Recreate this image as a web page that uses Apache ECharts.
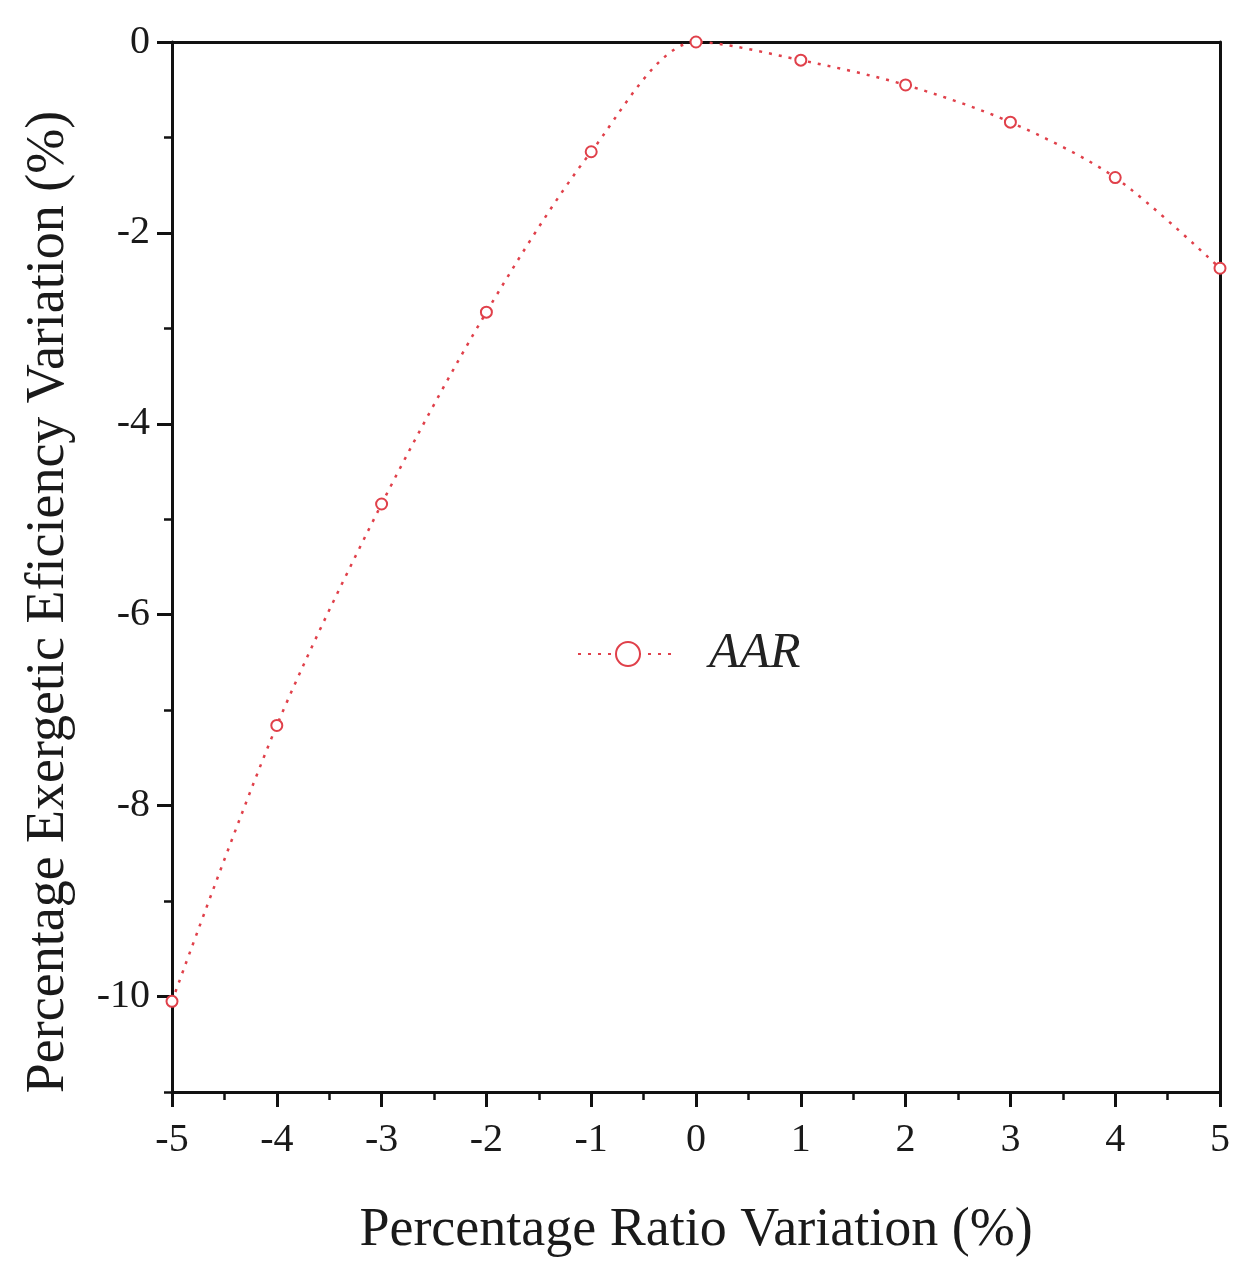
<!DOCTYPE html>
<html>
<head>
<meta charset="utf-8">
<script src="https://cdn.jsdelivr.net/npm/echarts@6/dist/echarts.min.js"></script>
<style>html,body{margin:0;padding:0;background:#fff}#c{width:1241px;height:1268px}</style>
</head>
<body>
<div id="c"></div>
<script>
const xValues = [-5, -4, -3, -2, -1, 0, 1, 2, 3, 4, 5];
const aarValues = [-10.05, -7.16, -4.84, -2.83, -1.15, 0, -0.19, -0.45, -0.84, -1.42, -2.37];
const yMajorTicks = [-10, -8, -6, -4, -2, 0];
const yMinorTicks = [-11, -9, -7, -5, -3, -1];
const seriesName = 'AAR';

const FONT = '"Liberation Serif", "DejaVu Serif", serif';
const RED = '#e0404a';
const chart = echarts.init(document.getElementById('c'));
chart.setOption({
  animation: false,
  backgroundColor: '#fff',
  grid: { left: 172, right: 21, top: 42, bottom: 176, show: false },
  legend: {
    left: 572, top: 624,
    itemWidth: 100, itemHeight: 30,
    textStyle: { fontFamily: FONT, fontSize: 50, fontStyle: 'italic', color: '#222', padding: [0, 0, 0, 26] },
    data: [seriesName]
  },
  xAxis: [{
    type: 'value', min: -5, max: 5, interval: 1, position: 'bottom',
    name: 'Percentage Ratio Variation (%)', nameLocation: 'middle', nameGap: 112,
    nameTextStyle: { fontFamily: FONT, fontSize: 54, color: '#1a1a1a' },
    axisLine: { onZero: false, lineStyle: { color: '#111', width: 3 } },
    axisTick: { inside: false, length: 15, lineStyle: { color: '#111', width: 3 } },
    minorTick: { show: true, splitNumber: 2, length: 8, lineStyle: { color: '#111', width: 2.5 } },
    axisLabel: { fontFamily: FONT, fontSize: 40, color: '#1a1a1a', margin: 28 },
    splitLine: { show: false }
  }, {
    type: 'value', min: -5, max: 5, position: 'top',
    axisLine: { onZero: false, lineStyle: { color: '#111', width: 3 } },
    axisTick: { show: false }, axisLabel: { show: false }, splitLine: { show: false }
  }],
  yAxis: [{
    type: 'value', min: -11, max: 0, interval: 1, position: 'left',
    name: 'Percentage Exergetic Eficiency Variation (%)', nameLocation: 'middle', nameGap: 96, nameRotate: 90,
    nameTextStyle: { fontFamily: FONT, fontSize: 54, color: '#1a1a1a', padding: [0, 70, 0, 0] },
    axisLine: { onZero: false, lineStyle: { color: '#111', width: 3 } },
    axisTick: { length: 15, customValues: yMajorTicks, lineStyle: { color: '#111', width: 3 } },
    axisLabel: { fontFamily: FONT, fontSize: 40, color: '#1a1a1a', margin: 22, customValues: yMajorTicks },
    splitLine: { show: false }
  }, {
    type: 'value', min: -11, max: 0, interval: 1, position: 'left',
    axisLine: { show: false, onZero: false },
    axisTick: { length: 8, customValues: yMinorTicks, lineStyle: { color: '#111', width: 2.5 } },
    axisLabel: { show: false }, splitLine: { show: false }
  }, {
    type: 'value', min: -11, max: 0, position: 'right',
    axisLine: { show: true, onZero: false, lineStyle: { color: '#111', width: 3 } },
    axisTick: { show: false }, axisLabel: { show: false }, splitLine: { show: false }
  }],
  series: [{
    name: seriesName,
    type: 'line',
    smooth: 0.3,
    data: xValues.map((x, i) => [x, aarValues[i]]),
    symbol: 'emptyCircle', symbolSize: 11,
    itemStyle: { color: RED, borderWidth: 1.5 },
    lineStyle: { color: RED, width: 2.5, type: [3, 7] },
    clip: false
  }]
});
</script>
</body>
</html>
